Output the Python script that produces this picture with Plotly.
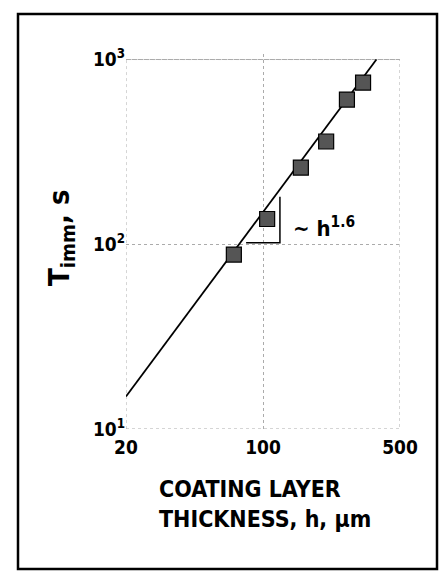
import numpy as np
import plotly.graph_objects as go

# ---- data ----
thickness_um = [71, 105, 156, 210, 268, 324]
t_imm_s = [88, 137, 260, 360, 607, 750]

fit_h = [20, 379]
fit_t = [15.0, 1000]

x_limits = [20, 500]
y_limits = [10, 1000]
x_tickvals = [20, 100, 500]
x_ticktext = ["20", "100", "500"]
y_tickvals = [10, 100, 1000]
y_ticktext = ["10<sup>1</sup>", "10<sup>2</sup>", "10<sup>3</sup>"]

slope_tri_h = [82, 122, 122]
slope_tri_t = [102, 102, 181]
slope_label = "~ h<sup>1.6</sup>"
slope_label_pos = [139, 124]

# ---- layout geometry ----
W, H = 447, 577
L, R, T, B = 126, 47, 54, 148
PW, PH = W - L - R, H - T - B


def px(xp):
    return (xp - L) / PW


def py(yp):
    return (H - B - yp) / PH


FONT = "DejaVu Sans Condensed, Liberation Sans Narrow, Arial Narrow, sans-serif"
GRID = "#ababab"

fig = go.Figure()

# dotted frame at the axis limits
fig.add_trace(go.Scatter(
    x=[x_limits[0], x_limits[1], x_limits[1], x_limits[0], x_limits[0]],
    y=[y_limits[0], y_limits[0], y_limits[1], y_limits[1], y_limits[0]],
    mode="lines", line=dict(color=GRID, width=1, dash="dot"),
    hoverinfo="skip"))

# fitted line
fig.add_trace(go.Scatter(x=fit_h, y=fit_t, mode="lines",
                         line=dict(color="black", width=1.8), hoverinfo="skip"))

# slope triangle
fig.add_trace(go.Scatter(x=slope_tri_h, y=slope_tri_t, mode="lines",
                         line=dict(color="black", width=1.5), hoverinfo="skip"))

# data points
fig.add_trace(go.Scatter(
    x=thickness_um, y=t_imm_s, mode="markers",
    marker=dict(symbol="square", size=15, color="#555555",
                line=dict(color="black", width=1.2))))

fig.update_layout(
    width=W, height=H,
    margin=dict(l=L, r=R, t=T, b=B),
    paper_bgcolor="white", plot_bgcolor="white",
    showlegend=False,
    font=dict(family=FONT, color="black", weight="bold"),
    xaxis=dict(type="log", range=[np.log10(x_limits[0]), np.log10(x_limits[1])],
               tickvals=x_tickvals, ticktext=x_ticktext,
               showgrid=True, gridcolor=GRID, griddash="dot", gridwidth=1,
               showline=False, zeroline=False, ticks="",
               ticklabelstandoff=5,
               tickfont=dict(family=FONT, size=19, color="black", weight="bold")),
    yaxis=dict(type="log", range=[np.log10(y_limits[0]), np.log10(y_limits[1]) + 0.03],
               tickvals=y_tickvals, ticktext=y_ticktext,
               showgrid=True, gridcolor=GRID, griddash="dot", gridwidth=1,
               showline=False, zeroline=False, ticks="",
               tickfont=dict(family=FONT, size=19, color="black", weight="bold")),
)

fig.add_annotation(
    x=np.log10(slope_label_pos[0]), y=np.log10(slope_label_pos[1]),
    xref="x", yref="y", xanchor="left", yanchor="middle",
    text=slope_label, showarrow=False,
    font=dict(family=FONT, size=22, color="black", weight="bold"))

# y title
fig.add_annotation(
    x=px(61), y=py(238), xref="paper", yref="paper",
    xanchor="center", yanchor="middle", textangle=-90,
    text="T<sub>imm</sub>, s", showarrow=False,
    font=dict(family=FONT, size=29, color="black", weight="bold"))

# x title
fig.add_annotation(
    x=px(157), y=py(474), xref="paper", yref="paper",
    xanchor="left", yanchor="top", align="left",
    text="COATING LAYER<br>THICKNESS, h, \u03bcm", showarrow=False,
    font=dict(family=FONT, size=23, color="black", weight="bold"))

# outer border of the figure panel
fig.add_shape(type="rect", xref="paper", yref="paper",
              x0=px(18), x1=px(437), y0=py(569), y1=py(14),
              line=dict(color="black", width=2.5))

fig.write_html("out.html")
